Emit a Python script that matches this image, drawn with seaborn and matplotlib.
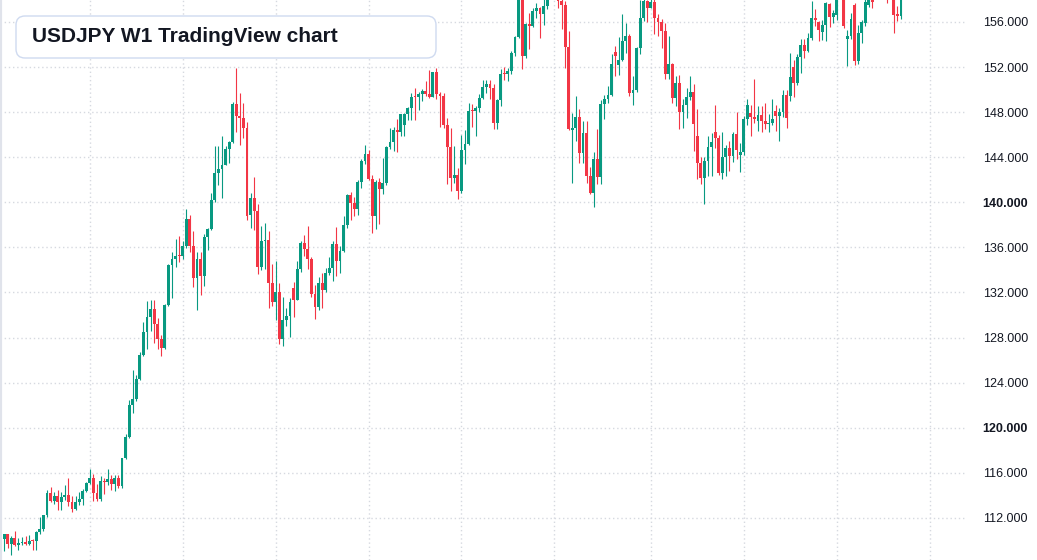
import numpy as np
import pandas as pd
import matplotlib
matplotlib.use("Agg")
import matplotlib.pyplot as plt
import matplotlib.dates as mdates
from matplotlib.patches import FancyBboxPatch
from matplotlib.transforms import IdentityTransform
from matplotlib.ticker import FuncFormatter
import seaborn as sns

# USDJPY weekly candles, first week starting 2021-07-19
first_week = "2021-07-19"

opens = [
    110.08, 110.55, 109.70, 110.25, 109.59, 109.78, 109.84, 109.71, 109.94, 109.93, 110.73, 111.05,
    112.23, 114.21, 113.48, 113.95, 113.41, 113.86, 114.00, 113.38, 112.80, 113.39, 113.70, 114.35,
    # 2022
    115.08, 115.56, 114.19, 113.68, 115.25, 115.22, 115.42, 115.00, 115.55, 114.82, 117.29, 119.18,
    122.05, 122.53, 124.34, 126.42, 128.47, 129.80, 130.55, 129.20, 127.87, 127.10, 130.88, 134.40,
    135.01, 135.22, 135.21, 136.11, 138.55, 136.11, 133.25, 135.00, 133.46, 136.92, 137.65, 140.18,
    142.57, 142.97, 143.34, 144.74, 145.31, 148.71, 147.66, 147.46, 146.61, 138.90, 140.38, 139.20,
    134.30, 136.57, 136.68, 132.80,
    # 2023
    131.12, 132.08, 127.88, 129.60, 129.88, 132.40, 131.36, 134.12, 136.35, 135.84, 134.99, 131.85,
    130.73, 132.86, 132.18, 133.75, 134.16, 136.30, 134.83, 135.72, 137.98, 140.62, 139.94, 139.39,
    141.83, 143.70, 144.31, 142.11, 138.80, 141.76, 141.15, 141.73, 144.95, 145.38, 146.41, 146.21,
    146.90, 147.85, 148.37, 149.36, 149.32, 149.59, 149.86, 149.65, 149.38, 151.52, 149.58, 149.43,
    146.82, 144.92, 142.16, 142.40,
    # 2024
    141.02, 144.62, 145.18, 148.14, 148.11, 148.38, 149.28, 150.20, 150.51, 150.11, 147.06, 149.06,
    151.41, 151.35, 151.62, 153.29, 154.64, 158.33, 152.97, 155.78, 155.65, 156.98, 157.27, 156.75,
    157.38, 159.78, 160.87, 160.75, 157.86, 157.47, 153.75, 146.45, 146.60, 147.60, 144.36, 146.19,
    142.30, 140.84, 143.86, 142.22, 148.71, 149.13, 149.51, 153.30, 152.20, 152.64, 154.28, 154.75,
    149.73, 150.00, 153.65, 156.38, 157.86,
    # 2025
    157.25, 157.73, 156.31, 156.00, 155.19, 151.40, 152.30, 149.28, 150.61, 148.04, 148.64, 149.31,
    149.82, 145.90, 143.53, 142.15, 143.62, 144.90, 146.20, 145.68, 142.59, 143.99, 144.85, 144.07,
    146.09, 144.20, 144.44, 147.43, 147.90, 147.60, 147.20, 147.73, 147.20, 146.93, 147.06, 148.10,
    147.67, 147.98, 149.49, 149.40, 152.00, 150.60, 152.86, 154.00, 153.44, 154.55, 156.38, 155.97,
    155.15, 155.75, 157.60, 156.41,
    # 2026
    156.60, 158.20, 158.30, 154.50, 154.80, 157.50, 152.55, 155.00, 155.90, 157.50, 158.60, 158.40,
    159.20, 159.60, 158.90, 158.30, 158.90, 156.75, 156.50,
]

highs = [
    110.60, 110.59, 110.37, 110.80, 110.25, 110.26, 110.42, 110.45, 110.16, 110.79, 112.08, 112.25,
    114.47, 114.70, 114.31, 114.44, 114.30, 114.95, 115.52, 113.95, 113.96, 114.25, 114.52, 115.19,
    116.35, 115.85, 114.96, 115.68, 115.58, 116.34, 115.80, 115.76, 115.81, 117.35, 119.41, 122.44,
    125.10, 124.68, 126.68, 129.41, 131.25, 131.35, 131.35, 129.77, 128.19, 131.00, 134.56, 135.59,
    136.71, 137.00, 136.58, 139.39, 138.88, 137.46, 135.58, 135.58, 137.23, 137.72, 140.80, 144.99,
    144.96, 145.90, 145.00, 145.43, 148.86, 151.94, 149.70, 148.84, 147.13, 140.80, 142.25, 139.89,
    137.86, 138.18, 137.48, 134.50,
    134.78, 132.87, 131.58, 130.61, 131.50, 132.90, 134.77, 136.53, 137.10, 137.91, 135.11, 132.65,
    133.33, 133.76, 134.13, 135.14, 136.56, 137.77, 136.13, 138.75, 140.73, 140.93, 140.45, 141.95,
    143.87, 145.07, 144.66, 142.42, 142.00, 142.12, 143.89, 145.00, 146.56, 146.64, 147.37, 147.87,
    147.94, 148.46, 149.71, 150.16, 149.82, 150.07, 150.78, 151.72, 151.59, 151.91, 149.75, 149.66,
    147.44, 146.59, 145.00, 143.00,
    145.98, 146.41, 148.81, 148.70, 148.58, 149.57, 150.88, 150.88, 150.84, 150.48, 149.16, 151.86,
    151.97, 151.94, 153.39, 154.79, 158.44, 160.25, 155.94, 156.79, 157.20, 157.71, 157.29, 158.25,
    159.94, 161.27, 161.95, 161.78, 158.85, 157.86, 155.22, 147.90, 149.39, 148.24, 147.21, 147.21,
    143.09, 144.49, 146.49, 149.06, 149.55, 150.32, 153.19, 153.88, 154.71, 156.75, 155.89, 154.90,
    151.22, 153.78, 157.93, 158.08, 157.93,
    158.88, 158.87, 156.75, 156.24, 155.89, 154.80, 152.35, 151.23, 151.30, 149.20, 150.15, 151.21,
    150.48, 148.29, 143.98, 144.00, 145.91, 146.18, 148.65, 145.93, 146.28, 145.09, 145.47, 146.27,
    148.03, 145.25, 147.64, 149.18, 148.60, 150.91, 148.51, 148.51, 148.77, 147.80, 149.13, 148.60,
    148.34, 150.00, 149.96, 153.27, 152.60, 153.20, 154.45, 154.48, 155.04, 157.89, 157.12, 156.12,
    156.20, 157.75, 157.70, 157.07,
    158.50, 159.40, 159.20, 155.30, 156.77, 157.65, 155.70, 156.20, 158.10, 158.90, 159.00, 159.50,
    160.10, 160.30, 159.40, 159.20, 159.30, 157.40, 158.60,
]

lows = [
    109.07, 109.36, 108.72, 109.47, 109.11, 109.59, 109.59, 109.59, 109.12, 109.11, 110.60, 110.82,
    112.08, 113.41, 113.26, 112.73, 112.72, 113.58, 113.05, 112.53, 112.70, 113.14, 113.13, 114.32,
    115.03, 113.48, 113.47, 113.47, 114.16, 114.91, 114.48, 114.40, 114.65, 114.66, 117.25, 119.12,
    121.28, 122.38, 124.23, 126.33, 126.95, 128.62, 127.52, 126.94, 126.36, 127.00, 130.79, 131.49,
    134.27, 134.74, 134.93, 135.98, 135.57, 132.51, 130.40, 131.73, 132.57, 135.80, 137.55, 140.06,
    141.52, 140.34, 143.28, 143.53, 145.25, 146.23, 145.11, 145.67, 138.47, 137.68, 137.50, 133.63,
    133.98, 134.07, 130.58, 130.80,
    129.52, 127.46, 127.22, 129.03, 128.08, 129.80, 131.30, 133.84, 135.26, 134.12, 131.56, 129.64,
    130.40, 130.63, 132.01, 133.53, 133.01, 133.50, 133.74, 135.63, 137.72, 138.42, 138.77, 138.84,
    141.27, 143.36, 141.95, 137.24, 137.67, 138.07, 140.70, 141.50, 144.74, 144.54, 144.44, 145.91,
    145.91, 147.31, 147.30, 147.30, 148.16, 148.99, 149.39, 149.28, 149.36, 149.19, 146.67, 146.63,
    141.63, 140.96, 141.71, 140.25,
    140.80, 143.42, 145.10, 146.65, 145.90, 147.98, 149.14, 149.68, 149.20, 146.48, 146.50, 148.57,
    150.81, 150.80, 151.39, 153.00, 154.54, 151.86, 152.79, 153.60, 155.57, 156.37, 154.55, 155.72,
    157.14, 159.30, 160.27, 157.27, 155.37, 151.94, 146.42, 141.68, 145.44, 143.45, 143.45, 141.75,
    140.71, 139.58, 141.65, 141.64, 147.35, 148.84, 149.40, 151.25, 151.28, 152.50, 153.28, 149.47,
    148.65, 149.82, 153.14, 156.06, 156.03,
    157.22, 154.97, 154.80, 153.72, 150.93, 150.92, 148.84, 148.57, 146.54, 146.61, 147.45, 149.12,
    144.55, 142.07, 141.63, 139.89, 142.35, 142.36, 144.82, 142.40, 142.11, 142.37, 142.80, 143.56,
    143.85, 142.67, 144.22, 146.90, 145.86, 147.05, 146.36, 146.21, 146.53, 146.21, 146.82, 146.33,
    145.48, 147.60, 146.59, 149.00, 149.38, 150.40, 151.50, 152.82, 153.38, 154.40, 155.65, 154.34,
    154.40, 154.35, 155.53, 155.88,
    156.20, 158.00, 155.50, 152.05, 154.50, 152.20, 152.30, 154.10, 155.60, 157.30, 157.20, 158.10,
    158.30, 158.50, 157.70, 158.05, 155.00, 156.10, 156.30,
]

closes = [
    110.55, 109.71, 110.25, 109.59, 109.78, 109.84, 109.71, 109.94, 109.93, 110.73, 111.05, 112.23,
    114.21, 113.48, 113.95, 113.41, 113.86, 114.00, 113.38, 112.80, 113.39, 113.70, 114.35, 115.08,
    115.56, 114.19, 113.68, 115.25, 115.22, 115.42, 115.00, 115.55, 114.82, 117.29, 119.18, 122.05,
    122.53, 124.34, 126.42, 128.47, 129.80, 130.55, 129.20, 127.87, 127.10, 130.88, 134.40, 135.01,
    135.22, 135.21, 136.11, 138.55, 136.11, 133.25, 135.00, 133.46, 136.92, 137.65, 140.18, 142.57,
    142.97, 143.34, 144.74, 145.31, 148.71, 147.66, 147.46, 146.61, 138.77, 140.38, 139.20, 134.30,
    136.57, 136.68, 132.80, 131.12,
    132.08, 127.88, 129.60, 129.88, 131.19, 131.36, 134.12, 136.35, 135.84, 134.99, 131.85, 130.73,
    132.86, 132.18, 133.75, 134.16, 136.30, 134.83, 135.72, 137.98, 140.62, 139.94, 139.39, 141.83,
    143.70, 144.31, 142.11, 138.80, 141.76, 141.15, 141.73, 144.95, 145.38, 146.41, 146.21, 147.82,
    147.85, 148.37, 149.36, 149.32, 149.59, 149.86, 149.65, 149.38, 151.52, 149.58, 149.43, 146.82,
    144.92, 142.16, 142.40, 141.02,
    144.62, 145.18, 148.14, 148.11, 148.38, 149.28, 150.20, 150.51, 150.11, 147.06, 149.06, 151.41,
    151.35, 151.62, 153.29, 154.64, 158.33, 152.97, 155.78, 155.65, 156.98, 157.27, 156.75, 157.38,
    159.78, 160.87, 160.75, 157.86, 157.47, 153.75, 146.52, 146.60, 147.60, 144.36, 146.19, 142.30,
    140.84, 143.86, 142.22, 148.71, 149.13, 149.51, 152.30, 152.97, 152.64, 154.28, 154.75, 149.73,
    150.00, 153.65, 156.38, 157.86, 157.25,
    157.73, 156.31, 156.00, 155.19, 151.40, 152.30, 149.28, 150.61, 148.04, 148.64, 149.31, 149.82,
    146.93, 143.53, 142.15, 143.62, 144.90, 145.37, 145.68, 142.59, 143.99, 144.85, 144.07, 146.09,
    144.64, 144.44, 147.43, 148.60, 147.60, 147.40, 147.73, 147.20, 146.93, 147.06, 147.40, 147.67,
    147.98, 149.49, 147.47, 151.15, 150.60, 152.86, 154.00, 153.44, 154.55, 156.38, 156.18, 155.25,
    155.75, 157.66, 156.47, 156.77,
    158.20, 159.10, 155.65, 154.75, 156.30, 152.50, 155.00, 156.00, 157.80, 158.40, 157.75, 159.20,
    159.60, 158.90, 158.30, 158.90, 156.60, 156.55, 158.30,
]

price_ticks = [112, 116, 120, 124, 128, 132, 136, 140, 144, 148, 152, 156]
bold_ticks = [120, 140]
# first weekly bar of each half year
grid_dates = ["2022-01-03", "2022-07-04", "2023-01-02", "2023-07-03", "2024-01-01",
              "2024-07-01", "2025-01-06", "2025-07-07", "2026-01-05", "2026-07-06"]

title = "USDJPY W1 TradingView chart"

UP = "#089981"
DOWN = "#f23645"
TEXT = "#131722"
GRID = "#d6d9e0"

sns.set_theme(style="white")
plt.rcParams["font.family"] = ["Liberation Sans", "DejaVu Sans"]

df = pd.DataFrame({"open": opens, "high": highs, "low": lows, "close": closes})
df["date"] = pd.date_range(first_week, periods=len(df), freq="7D")
df["x"] = mdates.date2num(df["date"])
df["color"] = np.where(df["close"] >= df["open"], UP, DOWN)
df["body_low"] = df[["open", "close"]].min(axis=1)
df["body_h"] = (df["close"] - df["open"]).abs().clip(lower=0.09)

fig = plt.figure(figsize=(10.37, 5.6), dpi=100)
ax = fig.add_axes([0, 0, 966 / 1037, 1])
ax.set_facecolor("white")

# wicks then bodies
ax.vlines(df["x"], df["low"], df["high"], colors=df["color"], linewidth=0.8, zorder=3)
ax.bar(df["x"], df["body_h"], bottom=df["body_low"], width=5.6,
       color=df["color"], linewidth=0, zorder=4)

x0 = df["x"].iloc[0]
ax.set_xlim(x0 - 8, x0 + 269.2 * 7)
ax.set_ylim(108.26, 157.95)

ax.set_xticks(mdates.date2num(pd.to_datetime(grid_dates)))
ax.set_xticklabels([])
ax.set_yticks(price_ticks)
ax.yaxis.tick_right()
ax.yaxis.set_major_formatter(FuncFormatter(lambda v, p: f"{v:.3f}"))
ax.tick_params(axis="x", length=0)
ax.tick_params(axis="y", length=0, pad=12, labelsize=9, labelcolor=TEXT)
for lab, val in zip(ax.get_yticklabels(), price_ticks):
    if val in bold_ticks:
        lab.set_fontweight("bold")

ax.grid(True, color=GRID, linestyle=(0, (1, 2)), linewidth=1, zorder=0)
ax.set_axisbelow(True)
for side in ["top", "right", "bottom"]:
    ax.spines[side].set_visible(False)
ax.spines["left"].set_color("#e0e3eb")
ax.spines["left"].set_linewidth(3)

# title box in pixel coordinates
box = FancyBboxPatch((16, 560 - 58), 420, 42, boxstyle="round,pad=0,rounding_size=9",
                     transform=IdentityTransform(), facecolor="white",
                     edgecolor="#cfdaf0", linewidth=1.0, zorder=10)
fig.add_artist(box)
fig.text(32 / 1037, 1 - 37 / 560, title, fontsize=15, fontweight="bold",
         color=TEXT, ha="left", va="center", zorder=11)

fig.savefig("out.png", dpi=100, facecolor="white")
